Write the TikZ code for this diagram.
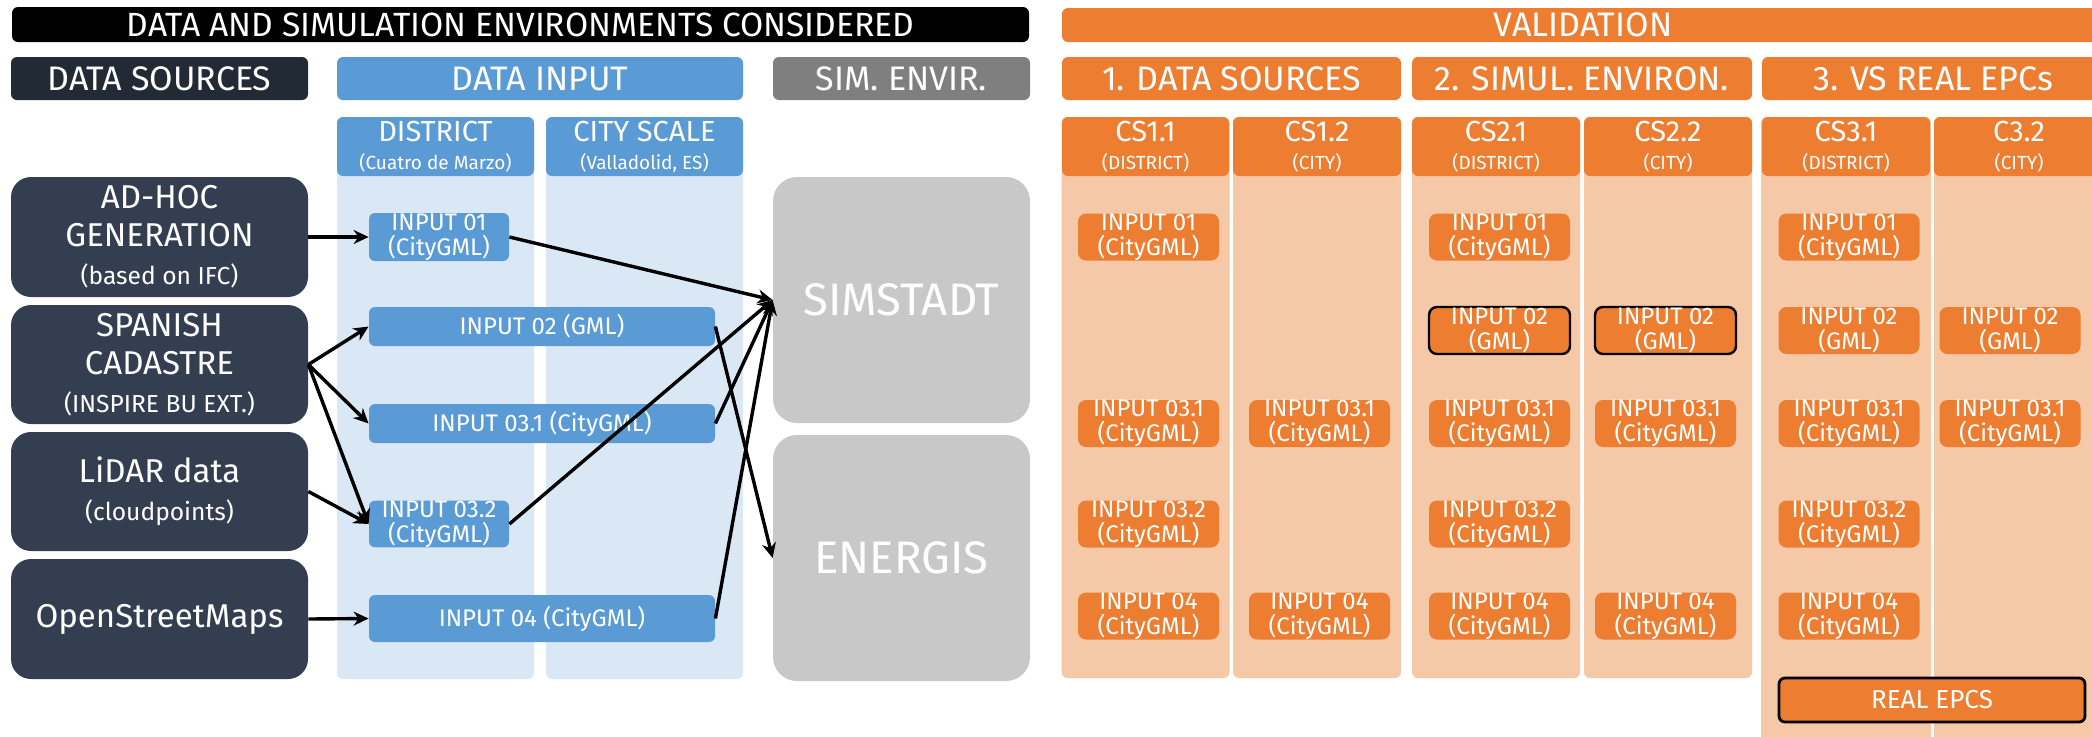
\documentclass[tikz,border=0pt]{standalone}
\usepackage{fontspec}
\setmainfont{Fira Sans}
\usetikzlibrary{arrows.meta}

\definecolor{navy}{HTML}{222A35}
\definecolor{slate}{HTML}{333F50}
\definecolor{inblue}{HTML}{5B9BD5}
\definecolor{paleblue}{HTML}{DAE8F5}
\definecolor{envgrey}{HTML}{7F7F7F}
\definecolor{boxgrey}{HTML}{C8C8C8}
\definecolor{valorange}{HTML}{ED7D31}
\definecolor{paleorange}{HTML}{F5C8A8}

\def\pxu{0.5pt}
\tikzset{
  bx/.style={fill=#1, text=white, align=center, inner sep=0pt, rounded corners=3pt},
  wh/.style 2 args={minimum width=#1*\pxu, minimum height=#2*\pxu},
  bigtxt/.style={font=\fontsize{17}{19}\selectfont},
  subtxt/.style={font=\fontsize{14.5}{15}\selectfont},
  srctxt/.style={font=\fontsize{16.5}{19}\selectfont},
  intxt/.style={font=\fontsize{12}{12.5}\selectfont},
  arr/.style={->, line width=1.7pt},
}
\def\sm{\fontsize{9.5}{10}\selectfont}
\def\srcsm{\fontsize{12.3}{14}\selectfont}
\def\tA{INPUT 01\\(CityGML)}
\def\tB{INPUT 02\\(GML)}
\def\tC{INPUT 03.1\\(CityGML)}
\def\tD{INPUT 03.2\\(CityGML)}
\def\tE{INPUT 04\\(CityGML)}

\begin{document}
\begin{tikzpicture}[x=0.5pt, y=-0.5pt, >={Stealth[length=7.5pt,width=7pt]}, line join=round]
	\useasboundingbox (0,0) rectangle (2092,736);
	\clip (0,0) rectangle (2092,736);
	
	% pale columns
	\foreach \cx/\nm in {435.5/bd, 644.5/bc}
	\node[bx=paleblue, wh={197}{562}] (\nm) at (\cx,398) {};
	\foreach \cx/\nm in {1145.5/oa, 1317/ob, 1496/oc, 1668/od}
	\node[bx=paleorange, wh={168}{561}] (\nm) at (\cx,397.5) {};
	\foreach \cx/\nm in {1846/oe, 2019/of}
	\node[bx=paleorange, wh={170}{628}] (\nm) at (\cx,431) {};
	
	% bars
	\node[bx=black, wh={1017}{35}, font=\fontsize{16.8}{19}\selectfont] (title) at (520.5,24.5) {DATA AND SIMULATION ENVIRONMENTS CONSIDERED};
	\node[bx=valorange, wh={1042}{34}, bigtxt] (valid) at (1583,25) {VALIDATION};
	\node[bx=navy, wh={297}{43}, bigtxt] (hsrc) at (159.5,78.5) {DATA SOURCES};
	\node[bx=inblue, wh={406}{43}, bigtxt] (hinp) at (540,78.5) {DATA INPUT};
	\node[bx=envgrey, wh={257}{43}, bigtxt] (hsim) at (901.5,78.5) {SIM. ENVIR.};
	\node[bx=valorange, wh={339}{43}, bigtxt] (hva) at (1231.5,78.5) {1. DATA SOURCES};
	\node[bx=valorange, wh={340}{43}, bigtxt] (hvb) at (1582,78.5) {2. SIMUL. ENVIRON.};
	\node[bx=valorange, wh={342}{43}, bigtxt] (hvc) at (1933,78.5) {3. VS REAL EPCs};
	
	\node[bx=inblue, wh={197}{59}, subtxt] (district) at (435.5,146.5) {DISTRICT\\[-1pt]{\sm (Cuatro de Marzo)}};
	\node[bx=inblue, wh={197}{59}, subtxt] (city) at (644.5,146.5) {CITY SCALE\\[-1pt]{\sm (Valladolid, ES)}};
	\foreach \cx/\w/\nm/\t/\s in {1145.5/167/csa/CS1.1/DISTRICT, 1317/168/csb/CS1.2/CITY,
		1496/168/csc/CS2.1/DISTRICT, 1668/168/csd/CS2.2/CITY, 1846/168/cse/CS3.1/DISTRICT, 2019/170/csf/C3.2/CITY}
	\node[bx=valorange, wh={\w}{59}, subtxt] (\nm) at (\cx,146.5) {\t\\[-1pt]{\sm (\s)}};
	
	% data sources
	\node[bx=slate, wh={297}{120}, srctxt, rounded corners=10pt] (adhoc) at (159.5,237) {AD-HOC\\GENERATION\\{\srcsm (based on IFC)}};
	\node[bx=slate, wh={297}{119}, srctxt, rounded corners=10pt] (cadastre) at (159.5,364.5) {SPANISH\\CADASTRE\\{\srcsm (INSPIRE BU EXT.)}};
	\node[bx=slate, wh={297}{119}, srctxt, rounded corners=10pt] (lidar) at (159.5,491.5) {LiDAR data\\{\srcsm (cloudpoints)}};
	\node[bx=slate, wh={297}{120}, srctxt, rounded corners=10pt] (osm) at (159.5,619) {OpenStreetMaps};
	
	% simulation environments
	\node[bx=boxgrey, wh={257}{246}, rounded corners=12pt, font=\fontsize{22.8}{26}\selectfont] (simstadt) at (901.5,300) {SIMSTADT};
	\node[bx=boxgrey, wh={257}{246}, rounded corners=12pt, font=\fontsize{22.8}{26}\selectfont] (energis) at (901.5,558) {ENERGIS};
	
	% data input
	\node[bx=inblue, wh={140}{48}, intxt] (in01) at (439,237) {\tA};
	\node[bx=inblue, wh={346}{39}, intxt] (in02) at (542,326.5) {INPUT 02 (GML)};
	\node[bx=inblue, wh={346}{39}, intxt] (in031) at (542,423.5) {INPUT 03.1 (CityGML)};
	\node[bx=inblue, wh={140}{46}, intxt] (in032) at (439,524) {\tD};
	\node[bx=inblue, wh={346}{47}, intxt] (in04) at (542,618.5) {INPUT 04 (CityGML)};
	
	% validation cases
	\foreach \cx/\cy/\t/\nm/\bd in {1148.5/237/\tA/va1/none, 1148.5/423.5/\tC/va3/none, 1148.5/524/\tD/va4/none, 1148.5/616/\tE/va5/none,
		1319.5/423.5/\tC/vb3/none, 1319.5/616/\tE/vb5/none,
		1499.5/237/\tA/vc1/none, 1499.5/330.5/\tB/vc2/black, 1499.5/423.5/\tC/vc3/none, 1499.5/524/\tD/vc4/none, 1499.5/616/\tE/vc5/none,
		1665.5/330.5/\tB/vd2/black, 1665.5/423.5/\tC/vd3/none, 1665.5/616/\tE/vd5/none,
		1849/237/\tA/ve1/none, 1849/330.5/\tB/ve2/none, 1849/423.5/\tC/ve3/none, 1849/524/\tD/ve4/none, 1849/616/\tE/ve5/none,
		2010/330.5/\tB/vf2/none, 2010/423.5/\tC/vf3/none}
	\node[bx=valorange, wh={141}{47}, intxt, rounded corners=4pt, draw=\bd, line width=1.2pt] (\nm) at (\cx,\cy) {\t};
	\node[bx=valorange, wh={306}{44}, draw=black, line width=1.4pt, font=\fontsize{13}{14}\selectfont] (epcs) at (1932,700) {REAL EPCS};
	
	% connectors
	\draw[arr] (adhoc.east) -- (in01.west);
	\draw[arr] (cadastre.east) -- (in02.west);
	\draw[arr] (cadastre.east) -- (in031.west);
	\draw[arr] (cadastre.east) -- (in032.west);
	\draw[arr] (lidar.east) -- (in032.west);
	\draw[arr] (osm.east) -- (in04.west);
	\draw[arr] (in01.east) -- (simstadt.west);
	\draw[arr] (in031.east) -- (simstadt.west);
	\draw[arr] (in032.east) -- (simstadt.west);
	\draw[arr] (in04.east) -- (simstadt.west);
	\draw[arr] (in02.east) -- (energis.west);
\end{tikzpicture}
\end{document}
